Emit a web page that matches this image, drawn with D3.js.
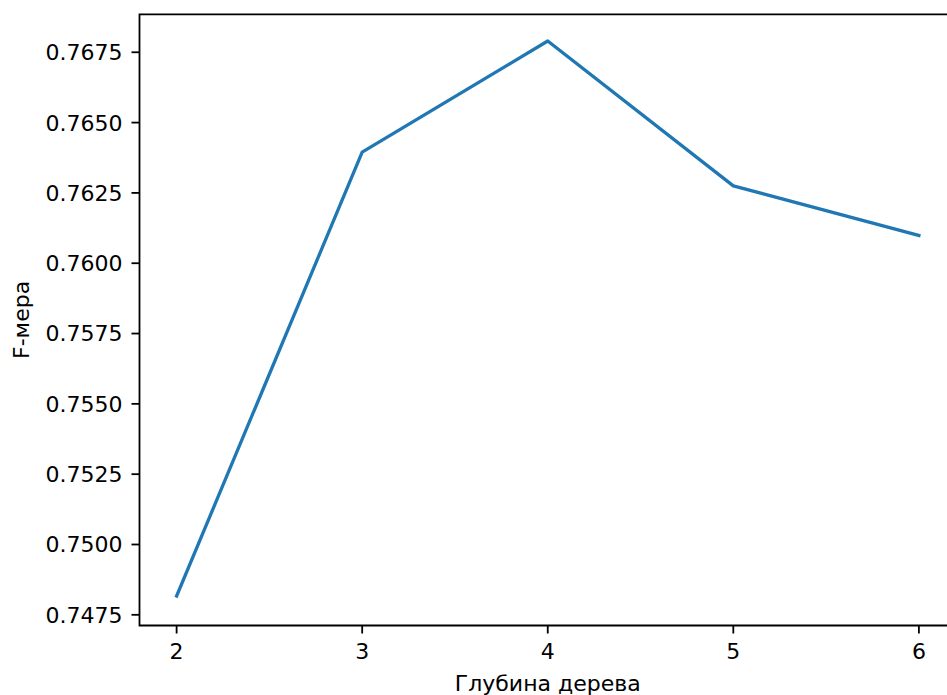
<!DOCTYPE html>
<html>
<head>
<meta charset="UTF-8">
<script src="https://d3js.org/d3.v7.min.js"></script>
<style>
    body {
        margin: 0;
        background: #fff;
    }

    svg {
        display: block;
        font-family: "DejaVu Sans", sans-serif;
    }

    text {
        fill: #000;
        font-size: 22px;
    }

    .spine {
        stroke: #000;
        stroke-width: 1.8;
        fill: none;
    }

    .tick line {
        stroke: #000;
        stroke-width: 1.8;
    }

    .series {
        fill: none;
        stroke: #1f77b4;
        stroke-width: 3.3;
        stroke-linejoin: round;
        stroke-linecap: square;
    }
</style>
</head>
<body>
<svg width="947" height="695"></svg>
<script>
    // tree depth vs F-measure
    const depths = [2, 3, 4, 5, 6];
    const fScores = [0.74817, 0.76395, 0.76790, 0.76275, 0.76099];

    const xTicks = [2, 3, 4, 5, 6];
    const yTicks = [0.7475, 0.7500, 0.7525, 0.7550, 0.7575, 0.7600, 0.7625, 0.7650, 0.7675];

    const xLabel = "Глубина дерева";
    const yLabel = "F-мера";

    const svg = d3.select("svg");
    const plotLeft = 139.5, plotRight = 956, plotTop = 14.3, plotBottom = 625.5;

    const x = d3.scaleLinear().domain([1.8, 6.2]).range([plotLeft, plotRight]);
    const y = d3.scaleLinear().domain([0.74712, 0.76885]).range([plotBottom, plotTop]);

    // line
    svg.append("path")
        .datum(depths.map((d, i) => [d, fScores[i]]))
        .attr("class", "series")
        .attr("d", d3.line().x(d => x(d[0])).y(d => y(d[1])));

    // x ticks
    const xt = svg.append("g").selectAll("g")
        .data(xTicks)
        .enter().append("g")
        .attr("class", "tick")
        .attr("transform", d => `translate(${x(d)},0)`);
    xt.append("line").attr("y1", plotBottom).attr("y2", plotBottom + 8);
    xt.append("text")
        .attr("y", 659)
        .attr("text-anchor", "middle")
        .text(d => d);

    // y ticks
    const yt = svg.append("g").selectAll("g")
        .data(yTicks)
        .enter().append("g")
        .attr("class", "tick")
        .attr("transform", d => `translate(0,${y(d)})`);
    yt.append("line").attr("x1", plotLeft).attr("x2", plotLeft - 8);
    yt.append("text")
        .attr("x", plotLeft - 17)
        .attr("dy", "0.36em")
        .attr("text-anchor", "end")
        .text(d => d.toFixed(4));

    // spines
    svg.append("path")
        .attr("class", "spine")
        .attr("d", `M${plotRight},${plotTop}H${plotLeft}V${plotBottom}H${plotRight}V${plotTop}`);

    // axis labels
    svg.append("text")
        .attr("x", (plotLeft + plotRight) / 2)
        .attr("y", 691)
        .attr("text-anchor", "middle")
        .text(xLabel);

    svg.append("text")
        .attr("transform", `translate(29,${(plotTop + plotBottom) / 2}) rotate(-90)`)
        .attr("text-anchor", "middle")
        .text(yLabel);
</script>
</body>
</html>
